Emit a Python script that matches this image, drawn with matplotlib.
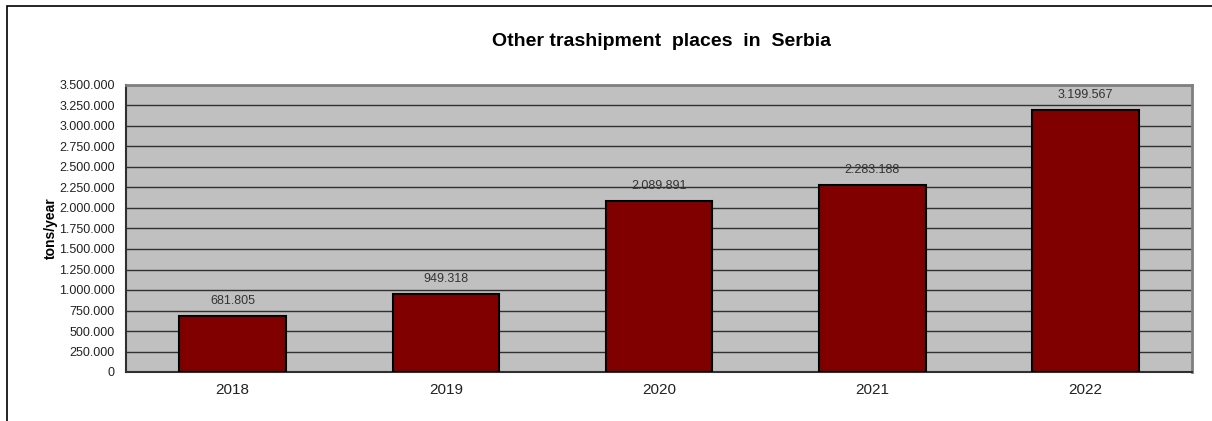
import matplotlib.pyplot as plt
from matplotlib.patches import Rectangle
from matplotlib.ticker import FuncFormatter, MultipleLocator

plt.rcParams['font.family'] = ['Liberation Sans', 'DejaVu Sans']

years = ["2018", "2019", "2020", "2021", "2022"]
tons = [681805, 949318, 2089891, 2283188, 3199567]


def dot_thousands(v, pos=None):
    return f"{int(round(v)):,}".replace(",", ".")


def main():
    fig = plt.figure(figsize=(12.12, 4.21), dpi=100)
    ax = fig.add_axes([126 / 1212, 1 - 372 / 421, 1066 / 1212, 287 / 421])

    # outer frame of the chart (cut off on the right and bottom)
    fig.patches.append(Rectangle((7 / 1212, -0.1), 1.2, 1.1 - 6 / 421,
                                 transform=fig.transFigure, fill=False,
                                 edgecolor="black", linewidth=1.2))

    ax.set_facecolor("#C0C0C0")
    x = range(len(years))
    ax.bar(x, tons, width=0.5, color="#800000", edgecolor="black",
           linewidth=1.5, zorder=3)

    for xi, v in zip(x, tons):
        ax.text(xi, v + 110000, dot_thousands(v), ha="center", va="bottom",
                fontsize=9, color="#333333")

    ax.set_xlim(-0.5, len(years) - 0.5)
    ax.set_ylim(0, 3500000)
    ax.yaxis.set_major_locator(MultipleLocator(250000))
    ax.yaxis.set_major_formatter(FuncFormatter(dot_thousands))
    ax.set_xticks(list(x))
    ax.set_xticklabels(years, fontsize=11, color="#222222")
    ax.tick_params(axis="y", labelsize=9, length=0, pad=8, colors="#222222")
    ax.tick_params(axis="x", length=0, pad=8)
    ax.grid(axis="y", color="#303030", linewidth=1.0, zorder=1)

    ax.spines["top"].set_color("#808080")
    ax.spines["top"].set_linewidth(2)
    ax.spines["right"].set_color("#808080")
    ax.spines["right"].set_linewidth(2)
    ax.spines["left"].set_color("#303030")
    ax.spines["left"].set_linewidth(1.5)
    ax.spines["bottom"].set_color("#303030")
    ax.spines["bottom"].set_linewidth(1.5)

    ax.set_ylabel("tons/year", fontsize=10, fontweight="bold", labelpad=1)
    fig.text(661 / 1212, 1 - 41 / 421, "Other trashipment  places  in  Serbia",
             ha="center", va="center", fontsize=14, fontweight="bold")

    fig.savefig("out.png", dpi=100)


if __name__ == "__main__":
    main()
